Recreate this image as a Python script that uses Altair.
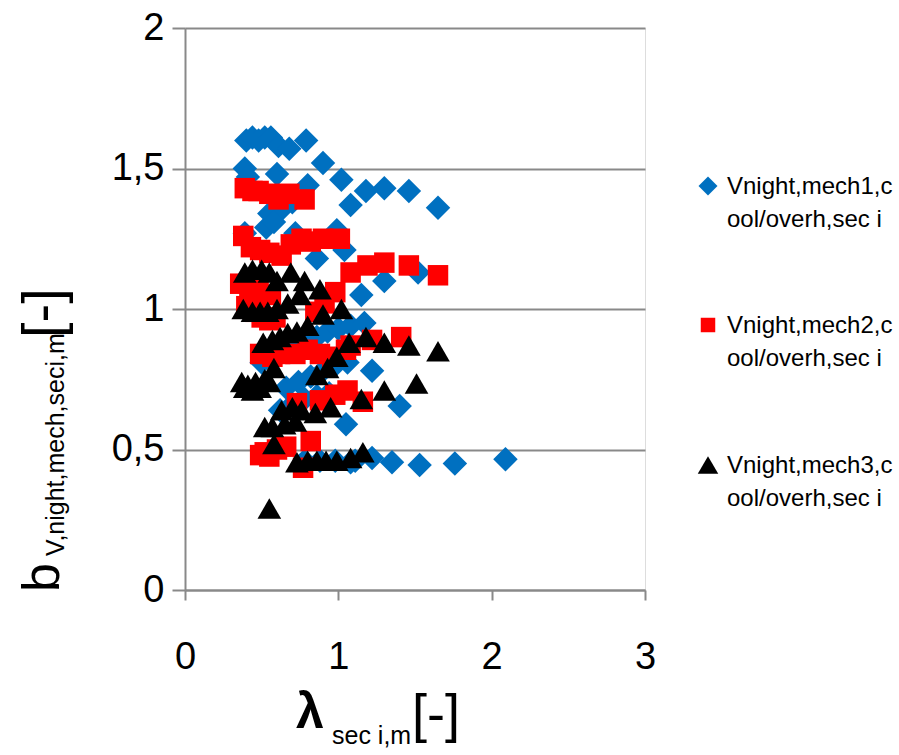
import altair as alt
import pandas as pd

series_names = ["Vnight,mech1,cool/overh,sec i",
                "Vnight,mech2,cool/overh,sec i",
                "Vnight,mech3,cool/overh,sec i"]
legend_lines = [["Vnight,mech1,c", "ool/overh,sec i"],
                ["Vnight,mech2,c", "ool/overh,sec i"],
                ["Vnight,mech3,c", "ool/overh,sec i"]]

# series 1 (blue diamonds)
x1 = [0.40, 0.44, 0.48, 0.52, 0.56, 0.61, 0.68, 0.79,
      0.39, 0.41, 0.60, 0.80, 0.90, 1.02, 1.08, 1.18, 1.30, 1.46, 1.65,
      0.39, 0.53, 0.55, 0.58, 0.64, 0.70,
      0.72, 0.86, 0.99, 1.04,
      1.15, 1.30, 1.52,
      0.55, 0.62, 0.70, 0.78, 0.86, 0.93, 1.00, 1.08, 1.17,
      0.50, 0.66, 0.74, 0.82, 0.90, 0.98, 1.06, 1.22,
      0.62, 0.70, 0.78, 0.86, 0.94, 1.05, 1.40,
      0.78, 0.88, 0.98, 1.08, 1.11, 1.22, 1.35, 1.53, 1.76, 2.09]
y1 = [1.60, 1.61, 1.60, 1.61, 1.61, 1.58, 1.57, 1.60,
      1.50, 1.47, 1.48, 1.44, 1.52, 1.46, 1.37, 1.42, 1.43, 1.42, 1.36,
      1.27, 1.29, 1.34, 1.31, 1.36, 1.38,
      1.27, 1.18, 1.28, 1.21,
      1.05, 1.10, 1.13,
      0.84, 0.86, 0.88, 0.89, 0.90, 0.92, 0.93, 0.94, 0.95,
      0.81, 0.72, 0.74, 0.76, 0.78, 0.80, 0.81, 0.78,
      0.64, 0.66, 0.68, 0.69, 0.70, 0.59, 0.655,
      0.46, 0.46, 0.46, 0.455, 0.46, 0.47, 0.455, 0.445, 0.45, 0.465]

# series 2 (red squares)
x2 = [0.39, 0.44, 0.48, 0.55, 0.61, 0.68, 0.78,
      0.38, 0.43, 0.49, 0.55, 0.63, 0.69, 0.76, 0.82, 0.90, 1.01,
      0.98, 1.08, 1.19, 1.30, 1.46, 1.65,
      0.36, 0.42, 0.48, 0.56, 0.40, 0.46, 0.50, 0.55, 0.85, 0.91, 0.59,
      0.49, 0.57, 0.62, 0.72, 0.80, 0.88, 0.96, 1.05, 1.08, 1.22, 1.41,
      0.73, 0.88, 0.98, 1.06, 1.16,
      0.49, 0.52, 0.55, 0.60, 0.66, 0.82, 0.77]
y2 = [1.43, 1.42, 1.42, 1.41, 1.39, 1.41, 1.39,
      1.26, 1.22, 1.21, 1.20, 1.19, 1.23, 1.25, 1.24, 1.25, 1.25,
      1.06, 1.13, 1.155, 1.165, 1.155, 1.12,
      1.09, 1.07, 1.06, 1.05, 1.01, 0.99, 0.97, 0.96, 0.99, 1.02, 0.97,
      0.84, 0.83, 0.84, 0.84, 0.855, 0.84, 0.83, 0.855, 0.87, 0.89, 0.90,
      0.665, 0.675, 0.695, 0.71, 0.67,
      0.48, 0.49, 0.475, 0.50, 0.51, 0.53, 0.435]

# series 3 (black triangles)
x3 = [0.39, 0.44, 0.50, 0.55, 0.60, 0.69, 0.78, 0.88,
      0.38, 0.44, 0.49, 0.54, 0.60, 0.67, 0.75, 0.90, 1.02,
      0.51, 0.57, 0.62, 0.67, 0.73, 0.80, 1.07, 1.18, 1.30, 1.46, 1.65,
      0.37, 0.39, 0.41, 0.44, 0.46, 0.49, 0.52, 0.55, 0.58,
      0.86, 0.93, 0.99,
      0.63, 0.70, 0.76, 0.85, 0.95, 1.15, 1.30, 1.51,
      0.52, 0.57, 0.65, 0.72, 0.58,
      0.73, 0.80, 0.86, 0.92, 0.99, 1.08, 1.16,
      0.55]
y3 = [1.13, 1.14, 1.14, 1.13, 1.10, 1.13, 1.10, 1.07,
      1.00, 0.99, 0.99, 0.99, 1.00, 1.02, 1.05, 0.98, 1.00,
      0.88, 0.89, 0.90, 0.915, 0.92, 0.94, 0.88, 0.90, 0.88, 0.87, 0.85,
      0.74, 0.72, 0.73, 0.71, 0.74, 0.72, 0.75, 0.74, 0.79,
      0.765, 0.79, 0.83,
      0.64, 0.65, 0.64, 0.63, 0.65, 0.68, 0.71, 0.735,
      0.58, 0.58, 0.59, 0.60, 0.52,
      0.455, 0.46, 0.46, 0.46, 0.46, 0.47, 0.49,
      0.29]

x_ticks = [0, 1, 2, 3]
y_ticks = [0, 0.5, 1, 1.5, 2]

shapes = ["diamond", "square", "triangle-up"]
colors = ["#0070C0", "#FF0000", "#000000"]
sizes = [600, 420, 560]

FONT = "Liberation Sans"
GRAY = "#898989"
L, T = 185, 28  # plot origin on the canvas

x_enc = alt.X("lam:Q", scale=alt.Scale(domain=[0, 3], nice=False),
              axis=alt.Axis(values=x_ticks, grid=False, tickSize=10, tickWidth=2,
                            tickColor=GRAY, domainColor=GRAY, domainWidth=2,
                            labelFontSize=38, labelPadding=38, labelColor="black",
                            labelFont=FONT, labelFlush=False, title=None))
y_enc = alt.Y("bval:Q", scale=alt.Scale(domain=[0, 2], nice=False),
              axis=alt.Axis(values=y_ticks, grid=True, gridColor=GRAY, gridWidth=2,
                            tickSize=13, tickWidth=2, tickColor=GRAY,
                            domainColor=GRAY, domainWidth=2,
                            labelFontSize=38, labelPadding=8, labelColor="black",
                            labelFont=FONT, labelFlush=False, title=None,
                            labelExpr="replace(format(datum.value, '~g'), '.', ',')"))

layers = []
for name, xs, ys, shp, col, sz in zip(series_names, [x1, x2, x3], [y1, y2, y3],
                                       shapes, colors, sizes):
    d = pd.DataFrame({"series": name, "lam": xs, "bval": ys})
    layers.append(alt.Chart(d).mark_point(shape=shp, color=col, size=sz, filled=True,
                                          opacity=1, strokeWidth=0)
                  .encode(x=x_enc, y=y_enc))

one = pd.DataFrame({"k": [0]})

def txt(text, px, py, size, bold=False, angle=0, align="left", baseline="alphabetic", lh=None):
    kw = dict(text=text, font=FONT, fontSize=size, align=align, baseline=baseline,
              color="black", fontWeight="bold" if bold else "normal")
    if angle:
        kw["angle"] = angle
    if lh:
        kw["lineHeight"] = lh
    return alt.Chart(one).mark_text(**kw).encode(x=alt.value(px - L), y=alt.value(py - T))

# x axis title: lambda_{sec i,m}[-]
layers.append(txt("λ", 296, 728, 50, bold=True))
layers.append(txt("sec i,m", 332, 744, 25))
layers.append(txt("[-]", 412, 732, 54))
# y axis title: b_{V,night,mech,seci,m}[-]
layers.append(txt("b", 59, 592, 52, angle=270))
layers.append(txt("V,night,mech,seci,m", 64, 556, 25, angle=270))
layers.append(txt("[-]", 61, 338, 56, angle=270))

# legend
leg_y = [186, 325, 465]
for i in range(3):
    layers.append(alt.Chart(one).mark_point(shape=shapes[i], filled=True, opacity=1,
                                            color=colors[i], size=[360, 210, 420][i],
                                            strokeWidth=0)
                  .encode(x=alt.value(708 - L), y=alt.value(leg_y[i] - T)))
    layers.append(txt(legend_lines[i], 727, leg_y[i] + 8, 24, lh=33))

chart = alt.layer(*layers).properties(
    width=460, height=562,
    padding={"left": L, "top": T, "right": 899 - L - 460, "bottom": 755 - T - 562},
    autosize="none",
).configure_view(stroke=None).configure(font=FONT)

chart.save("out.html", embed_options={"renderer": "svg", "actions": False})
